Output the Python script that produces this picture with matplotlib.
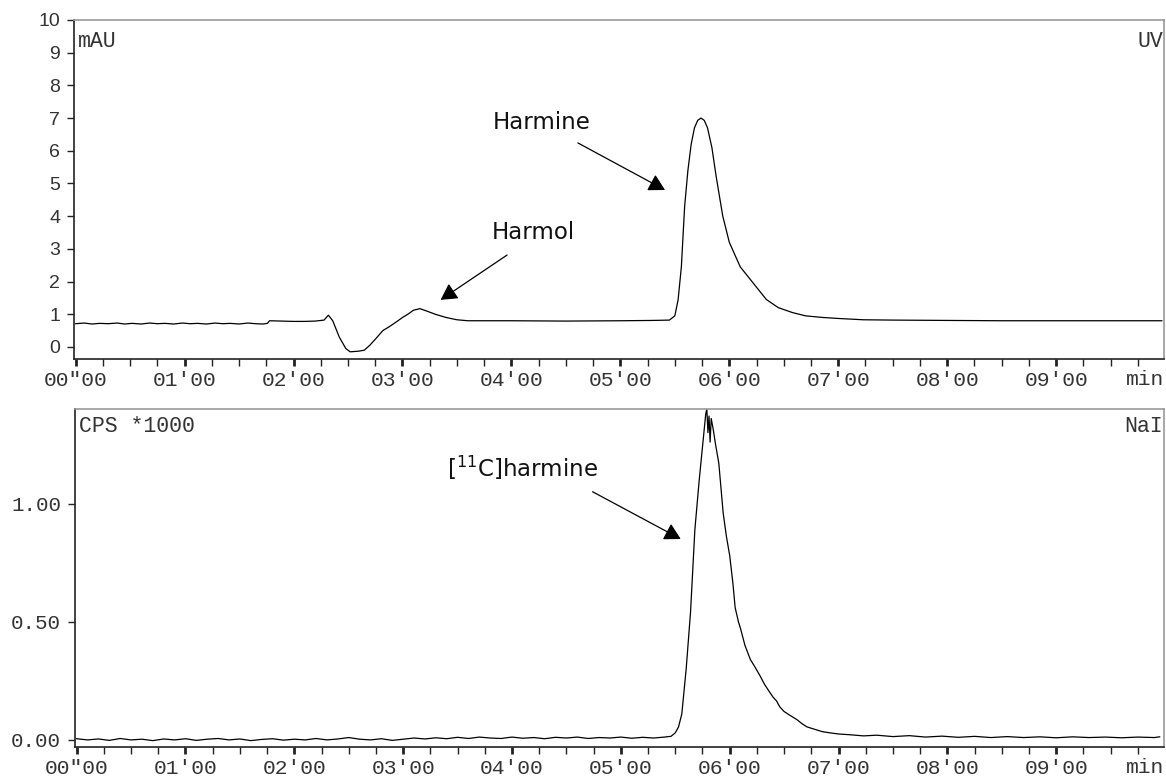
import matplotlib
matplotlib.use("Agg")
from matplotlib import pyplot as plt
from matplotlib.ticker import MultipleLocator

# UV trace (time in min, mAU)
uv_time = [0.00, 0.08, 0.15, 0.22, 0.30, 0.38, 0.45, 0.52, 0.60, 0.68, 0.75, 0.82,
           0.90, 0.98, 1.05, 1.12, 1.20, 1.28, 1.35, 1.42, 1.50, 1.58, 1.65, 1.72,
           1.76, 1.78, 2.00, 2.10, 2.20, 2.28, 2.32, 2.36, 2.42, 2.48, 2.52, 2.56,
           2.60, 2.65, 2.70, 2.76, 2.82, 2.88, 2.95, 3.00, 3.05, 3.10, 3.16, 3.22,
           3.30, 3.40, 3.50, 3.60, 4.00, 4.50, 5.00, 5.30, 5.45, 5.50, 5.53, 5.56,
           5.59, 5.62, 5.65, 5.68, 5.71, 5.74, 5.77, 5.80, 5.84, 5.88, 5.94, 6.00,
           6.10, 6.22, 6.34, 6.45, 6.58, 6.70, 6.86, 7.00, 7.23, 7.50, 8.00, 8.50,
           9.00, 9.50, 9.97]
uv_mau = [0.71, 0.73, 0.70, 0.72, 0.71, 0.73, 0.70, 0.72, 0.70, 0.73, 0.71, 0.72,
          0.70, 0.73, 0.71, 0.72, 0.70, 0.73, 0.71, 0.72, 0.70, 0.73, 0.71, 0.70,
          0.72, 0.80, 0.78, 0.78, 0.79, 0.82, 0.97, 0.80, 0.30, -0.05, -0.15, -0.14,
          -0.13, -0.10, 0.05, 0.27, 0.50, 0.62, 0.78, 0.90, 1.00, 1.12, 1.17, 1.10,
          1.00, 0.90, 0.83, 0.80, 0.80, 0.79, 0.80, 0.81, 0.82, 0.95, 1.44, 2.45,
          4.30, 5.40, 6.20, 6.70, 6.93, 7.00, 6.93, 6.70, 6.10, 5.20, 4.00, 3.20,
          2.45, 1.95, 1.45, 1.20, 1.05, 0.95, 0.90, 0.87, 0.83, 0.82, 0.81, 0.80,
          0.80, 0.80, 0.80]

# NaI radio trace (time in min, CPS*1000)
nai_time = [0.0, 0.1, 0.2, 0.3, 0.4, 0.5, 0.6, 0.7, 0.8, 0.9, 1.0, 1.1, 1.2, 1.3,
            1.4, 1.5, 1.6, 1.7, 1.8, 1.9, 2.0, 2.1, 2.2, 2.3, 2.4, 2.5, 2.6, 2.7,
            2.8, 2.9, 3.0, 3.1, 3.2, 3.3, 3.4, 3.5, 3.6, 3.7, 3.8, 3.9, 4.0, 4.1,
            4.2, 4.3, 4.4, 4.5, 4.6, 4.7, 4.8, 4.9, 5.0, 5.1, 5.2, 5.3, 5.4, 5.46,
            5.50, 5.53, 5.56, 5.60, 5.64, 5.68, 5.72, 5.75, 5.78, 5.79, 5.80, 5.81,
            5.82, 5.83, 5.85, 5.87, 5.90, 5.94, 5.97, 6.00, 6.03, 6.05, 6.08, 6.10,
            6.14, 6.19, 6.23, 6.28, 6.32, 6.37, 6.40, 6.43, 6.46, 6.50, 6.55, 6.62,
            6.66, 6.71, 6.78, 6.85, 6.92, 7.00, 7.10, 7.23, 7.35, 7.50, 7.65, 7.80,
            7.95, 8.10, 8.25, 8.40, 8.55, 8.70, 8.85, 9.00, 9.15, 9.30, 9.45, 9.60,
            9.75, 9.90, 9.95]
nai_cps = [0.005, 0.000, 0.004, -0.002, 0.006, 0.000, 0.003, -0.003, 0.004, 0.000,
           0.005, -0.002, 0.003, 0.006, 0.000, 0.004, -0.003, 0.002, 0.005, -0.001,
           0.003, 0.000, 0.006, 0.000, 0.004, 0.010, 0.003, 0.000, 0.005, -0.002,
           0.003, 0.008, 0.004, 0.009, 0.005, 0.011, 0.006, 0.012, 0.008, 0.006,
           0.012, 0.007, 0.010, 0.005, 0.011, 0.008, 0.012, 0.006, 0.010, 0.008,
           0.012, 0.007, 0.011, 0.008, 0.012, 0.015, 0.030, 0.055, 0.110, 0.300,
           0.540, 0.890, 1.100, 1.240, 1.380, 1.400, 1.300, 1.370, 1.260, 1.360,
           1.310, 1.250, 1.170, 0.960, 0.860, 0.780, 0.660, 0.560, 0.500, 0.470,
           0.400, 0.340, 0.310, 0.270, 0.235, 0.200, 0.180, 0.165, 0.140, 0.120,
           0.105, 0.085, 0.070, 0.055, 0.045, 0.035, 0.030, 0.025, 0.022, 0.017,
           0.020, 0.014, 0.018, 0.012, 0.016, 0.011, 0.015, 0.010, 0.014, 0.010,
           0.013, 0.009, 0.013, 0.010, 0.012, 0.009, 0.012, 0.010, 0.013]

x_ticks = [0, 1, 2, 3, 4, 5, 6, 7, 8, 9]
x_labels = ['00"00', "01'00", "02'00", "03'00", "04'00", "05'00",
            "06'00", "07'00", "08'00", "09'00"]
uv_yticks = [0, 1, 2, 3, 4, 5, 6, 7, 8, 9, 10]
nai_yticks = [0.0, 0.5, 1.0]
nai_ylabels = ["0.00", "0.50", "1.00"]

mono = "Liberation Mono"
txt_col = "#333333"

fig = plt.figure(figsize=(11.66, 7.78), dpi=100)
W, H = 1166, 778
ax1 = fig.add_axes([74 / W, 1 - 359 / H, 1090 / W, 339 / H])
ax2 = fig.add_axes([75 / W, 1 - 747 / H, 1089 / W, 338 / H])


def style_time_axis(ax):
	ax.set_xlim(-0.015, 9.99)
	ax.set_xticks(x_ticks)
	ax.set_xticklabels(x_labels, fontfamily=mono, fontsize=15.3, color=txt_col)
	ax.xaxis.set_minor_locator(MultipleLocator(0.25))
	ax.tick_params(axis="x", which="major", length=5, width=2, pad=4, color="#222222")
	ax.tick_params(axis="x", which="minor", length=5, width=1, color="#222222")
	ax.tick_params(axis="y", length=5, width=1, pad=5, color="#222222")
	for s in ("top", "right"):
		ax.spines[s].set_color("#999999")
		ax.spines[s].set_linewidth(1.2)
	for s in ("left", "bottom"):
		ax.spines[s].set_color("#222222")
		ax.spines[s].set_linewidth(1.2)
	ax.annotate("min", xy=(1.0, 0), xycoords="axes fraction", xytext=(0, -7.6),
	            textcoords="offset points", ha="right", va="top",
	            fontfamily=mono, fontsize=15.3, color=txt_col)


# UV panel
ax1.plot(uv_time, uv_mau, color="black", lw=0.9)
ax1.set_ylim(-0.37, 10)
ax1.set_yticks(uv_yticks)
ax1.set_yticklabels([str(v) for v in uv_yticks], fontfamily="Liberation Sans",
                    fontsize=14, color=txt_col)
style_time_axis(ax1)
ax1.text(0.004, 0.968, "mAU", transform=ax1.transAxes, ha="left", va="top",
         fontfamily=mono, fontsize=15.5, color=txt_col)
ax1.text(0.999, 0.968, "UV", transform=ax1.transAxes, ha="right", va="top",
         fontfamily=mono, fontsize=15.5, color=txt_col)

arrow = dict(arrowstyle="-|>,head_length=0.45,head_width=0.25", color="black",
             lw=0.9, mutation_scale=22, shrinkA=0, shrinkB=0)
ax1.text(4.28, 6.85, "Harmine", ha="center", va="center", fontsize=16.5,
         fontfamily="DejaVu Sans", color="#111111")
ax1.annotate("", xy=(5.41, 4.80), xytext=(4.61, 6.24), arrowprops=arrow)
ax1.text(4.20, 3.49, "Harmol", ha="center", va="center", fontsize=16.5,
         fontfamily="DejaVu Sans", color="#111111")
ax1.annotate("", xy=(3.35, 1.44), xytext=(3.96, 2.81), arrowprops=arrow)

# NaI panel
ax2.plot(nai_time, nai_cps, color="black", lw=0.9)
ax2.set_ylim(-0.03, 1.40)
ax2.set_yticks(nai_yticks)
ax2.set_yticklabels(nai_ylabels, fontfamily=mono, fontsize=15, color=txt_col)
style_time_axis(ax2)
ax2.text(0.004, 0.978, "CPS *1000", transform=ax2.transAxes, ha="left", va="top",
         fontfamily=mono, fontsize=15.5, color=txt_col)
ax2.text(0.999, 0.978, "NaI", transform=ax2.transAxes, ha="right", va="top",
         fontfamily=mono, fontsize=15.5, color=txt_col)
ax2.text(4.10, 1.15, r"[$^{11}$C]harmine", ha="center", va="center", fontsize=16.5,
         fontfamily="DejaVu Sans", color="#111111")
ax2.annotate("", xy=(5.55, 0.85), xytext=(4.74, 1.05), arrowprops=arrow)

fig.savefig("out.png", dpi=100)
